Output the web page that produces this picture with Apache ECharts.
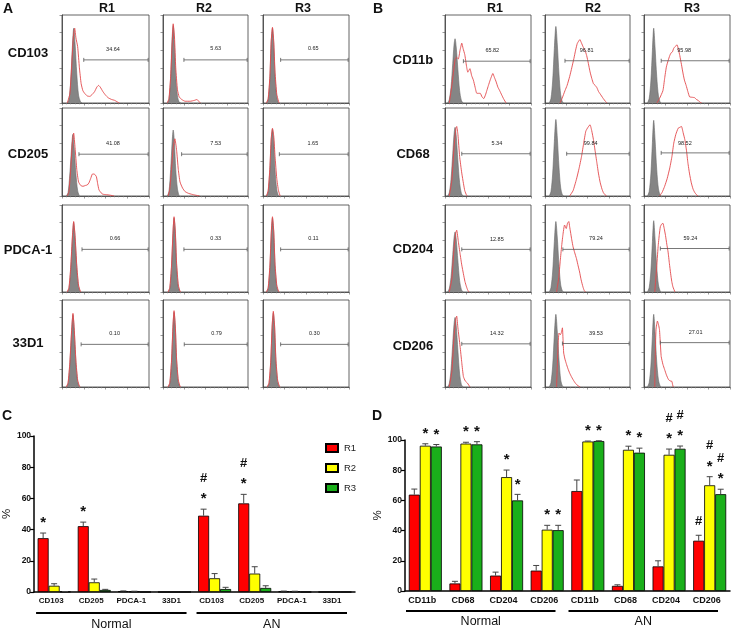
<!DOCTYPE html>
<html><head><meta charset="utf-8">
<script src="https://cdn.jsdelivr.net/npm/echarts@6/dist/echarts.min.js"></script>
<style>html,body{margin:0;padding:0;background:#fff}#c{width:733px;height:632px}</style>
</head><body><div id="c"></div>
<script>
const FF = '"Liberation Sans", Arial, Helvetica, sans-serif';

// ---------- Panels A & B: flow cytometry histograms ----------
const colLabels = ['R1', 'R2', 'R3'];
const rowLabelsA = ['CD103', 'CD205', 'PDCA-1', '33D1'];
const rowLabelsB = ['CD11b', 'CD68', 'CD204', 'CD206'];

// red (stained) histograms, panel A, row-major (x % of box, y % of box)
const redA = [
 [[6,0],[9,10],[11,40],[13,75],[14.6,85],[16,74],[18,64],[20,40],[22,22],[24,14],[26,11],[29,8],[32,7.5],[35,10],[37.5,13],[40,18],[42,20],[44,18],[47,13],[50,9],[53,6],[57,4],[60.5,3],[64,1],[66,0]],
 [[5,0],[7,5],[9,30],[11,72],[12,90],[13.5,75],[15,40],[17,15],[19,7],[22,4],[26,2],[32,2],[37,3],[40,4],[42,2],[44,0]],
 [[4,0],[6,5],[8,30],[9.5,70],[11,86],[12.5,70],[14,35],[16,10],[18,2],[19,0]],
 [[6,0],[8,5],[10,30],[12,62],[13.4,71.5],[15,55],[17,30],[19,16],[21.5,12],[24,11],[27,12],[29,12.5],[31,15],[33,20],[35,25],[37,25],[39.5,22],[41,14],[42.5,7],[45,3.5],[47,2],[51,1.5],[55,1],[60,0]],
 [[6,0],[8,8],[10,30],[12,55],[14,65],[16,52],[18,30],[20,16],[23,9],[26,5],[30,3],[33.6,2],[38,1],[43,0]],
 [[4,0],[6,6],[8,32],[9.5,65],[11,77],[12.5,68],[14,45],[16,20],[18,6],[20,0]],
 [[6,0],[8,5],[10,28],[12,65],[13.4,81],[15,65],[17,30],[19,8],[21,1],[22,0]],
 [[6,0],[8,5],[10,30],[11.8,70],[13,86.5],[14.5,70],[16,33],[18,8],[20,1],[21,0]],
 [[4,0],[6,5],[8,30],[9.7,70],[11,86.5],[12.5,70],[14,32],[16,8],[18,1],[19,0]],
 [[5,0],[7,5],[9,28],[11.2,68],[12.6,84.6],[14,68],[16,30],[18,8],[20,1],[21,0]],
 [[6,0],[8,5],[10,30],[11.8,72],[13,87.7],[14.5,70],[16,32],[18,8],[20,1],[21,0]],
 [[5,0],[7,5],[9,30],[10.6,70],[12,87],[13.5,70],[15,32],[17,8],[19,1],[20,0]]
];
// grey (control) histograms, panel A
const grayA = [
 [[6,0],[8,4],[10,25],[12,65],[13.5,85],[15,68],[17,33],[19,9],[21,2],[23,0]],
 [[5,0],[7,4],[9,28],[10.5,70],[12,88],[13.5,66],[15,30],[17,8],[19,1],[21,0]],
 [[4,0],[6,4],[8,28],[9.5,68],[11,85],[12.5,66],[14,30],[16,7],[18,0]],
 [[5,0],[7,4],[9,25],[11,55],[12.5,70],[14,55],[16,25],[18,6],[20,0]],
 [[5,0],[7,5],[9,30],[10.8,62],[12,75],[13.5,60],[15,30],[17,8],[19,0]],
 [[4,0],[6,5],[8,30],[9.5,62],[11,76],[12.5,62],[14,30],[16,7],[18,0]],
 [[6,0],[8,4],[10,26],[12,62],[13.4,80],[15,62],[17,28],[19,6],[21,0]],
 [[6,0],[8,4],[10,28],[11.8,68],[13,85],[14.5,68],[16,30],[18,6],[20,0]],
 [[4,0],[6,4],[8,28],[9.7,68],[11,85],[12.5,68],[14,30],[16,6],[18,0]],
 [[5,0],[7,4],[9,26],[11.2,66],[12.6,83],[14,66],[16,28],[18,6],[20,0]],
 [[6,0],[8,4],[10,28],[11.8,70],[13,86],[14.5,68],[16,30],[18,6],[20,0]],
 [[5,0],[7,4],[9,28],[10.6,68],[12,85],[13.5,68],[15,30],[17,6],[19,0]]
];
// gates: [start, end, level, labelX, labelY, percent]
const gatesA = [
 [25,99,49,58.6,61,'34.64'], [24.6,99,49,62,62,'5.63'], [20.5,99,49,58.5,62,'0.65'],
 [19.5,99,47.5,58.6,60,'41.08'], [21.9,99,47.5,62,60,'7.53'], [19,99,47.5,58,60,'1.65'],
 [23,99,49,61,61.5,'0.66'], [24.6,99,49,62,61.5,'0.33'], [20.5,99,49,58.5,61.5,'0.11'],
 [22,99,49,60.5,61.5,'0.10'], [25,99,49,63,61.5,'0.79'], [20.5,99,49,59.7,61.5,'0.30']
];

const redB = [
 [[5,0],[8,20],[11.7,49],[13.5,52],[15.5,50],[17.5,60],[19.5,68],[21,62],[23,55],[25,42],[26.5,35],[29,39],[31,31],[33,26],[35,18],[37,11],[41,11],[43,7],[45,5],[47,9],[48.6,14],[50.5,20],[52.5,26],[54,30],[55.6,33.5],[57.5,29],[59.5,24],[61.5,18],[63.4,14.4],[66,9],[68,5],[71,0]],
 [[17.6,0],[20,5],[23.5,14],[26,20],[29,30],[31.5,40],[34,50.6],[36,60],[38,67.7],[41,72],[43,68],[45,63.5],[47,60],[49,54],[51,45],[53,35.4],[55,28],[57,22],[59,20],[61,17.5],[63,13],[64.7,10.6],[66.5,8],[68.6,5],[71,2],[73,0]],
 [[15,0],[18,5],[22,14],[24,28],[26,41],[28,48],[30,54],[31.5,57],[33,58],[34.5,62],[36,64],[38.5,66],[40,61],[41.6,54],[43.5,44],[45.5,33],[47,26],[49,20],[51,13],[53,7],[56,6.5],[59,6],[61,4],[63,3],[65,1],[67,0]],
 [[5,0],[8,18],[10.5,55],[12.5,76],[13.6,79],[15,70],[17,45],[19.5,26],[21.5,14],[23,6],[25,1],[26,0]],
 [[29,0],[33,6],[37,19],[40,31],[43,45],[45.5,60],[48,73.6],[50.5,78],[53,81],[55,74],[57,64],[59,51],[61,38],[63,25],[65,15],[67,8],[68.6,4],[70.5,1.5],[72.5,0]],
 [[18,0],[21,4],[24,11],[27,20],[30,32],[32.5,45],[34.6,60],[37,70],[39.7,77],[41.5,78],[43.6,79],[45.5,72],[47.5,64],[49.5,51],[51,38],[53,25],[55,15],[57,8],[59,4],[61,1.5],[63,0]],
 [[5,0],[8,15],[10.5,50],[12.5,68],[13.6,71],[15.5,58],[17.5,44],[19.5,31],[21.4,21],[23.2,12],[25,6],[26.5,2],[28,0]],
 [[13.6,0],[16,15],[18,36.5],[19.5,52],[21,65],[23,77],[25,73],[26.5,79],[28,81],[29,75],[30,69],[31.5,60],[33,52],[35,45],[37,38.5],[39,30],[40.7,23],[42.5,14],[44.6,6],[46,2],[47.7,0]],
 [[12.5,0],[14.5,25],[16.4,52],[17.8,66],[19,75],[20.5,78],[22,79],[23.5,73],[25,65],[26.5,55],[28,46],[29.5,33],[31,21],[32.3,12],[33.6,6],[36,0]],
 [[5,0],[8,18],[10.5,58],[12.5,78],[13.6,81.5],[15,68],[17.5,47],[19.5,28],[21.4,12],[23.5,7],[26,4.6],[29,0]],
 [[13.6,0],[15.5,51],[16.5,62],[18,60],[19.4,63],[20.5,68],[21.2,55],[22,39],[23.5,32],[25,27],[27,21],[29,16],[31,12],[33,8.5],[36,4],[38.8,1.5],[41.5,0]],
 [[12.5,0],[13.2,40],[14,66],[15.6,75.8],[16.8,72],[18,66],[19,50],[20,35],[22,26],[24,20],[26,14],[28.5,8.5],[30.5,7],[32.4,6.5],[33.2,3],[34,0]]
];
const grayB = [
 [[3,0],[5,4],[7,18],[9,45],[10.5,66],[11.7,73],[13,64],[15,38],[17,14],[19,3],[21,0]],
 [[5,0],[7,5],[9,25],[11,62],[12.8,87],[14.5,66],[16.5,32],[18.5,9],[20.5,1],[22,0]],
 [[4,0],[6,5],[8,25],[9.8,60],[11.3,85],[12.8,64],[14.8,30],[16.8,8],[18.8,1],[20,0]],
 [[3,0],[5,4],[7,19],[9,48],[10.5,70],[11.7,78],[13,69],[15,40],[17,15],[19,3],[21,0]],
 [[5,0],[7,5],[9,25],[11,62],[12.8,87],[14.5,66],[16.5,32],[18.5,9],[20.5,1],[22,0]],
 [[4,0],[6,5],[8,25],[9.8,61],[11.3,86],[12.8,65],[14.8,30],[16.8,8],[18.8,1],[20,0]],
 [[3,0],[5,4],[7,17],[9,43],[10.5,62],[11.7,69],[13,61],[15,36],[17,13],[19,3],[21,0]],
 [[5,0],[7,5],[9,23],[11,58],[12.8,81],[14.5,62],[16.5,30],[18.5,8],[20.5,1],[22,0]],
 [[4,0],[6,5],[8,24],[9.8,58],[11.3,82],[12.8,62],[14.8,29],[16.8,8],[18.8,1],[20,0]],
 [[3,0],[5,4],[7,20],[9,50],[10.5,72],[11.7,80],[13,71],[15,42],[17,15],[19,3],[21,0]],
 [[5,0],[7,5],[9,24],[11,60],[12.8,83.5],[14.5,63],[16.5,31],[18.5,8],[20.5,1],[22,0]],
 [[4,0],[6,5],[8,24],[9.8,59],[11.3,83.5],[12.8,63],[14.8,29],[16.8,8],[18.8,1],[20,0]]
];
const gatesB = [
 [21.4,99,47.5,55,60,'65.82'], [23.5,99,48,49,60,'96.81'], [20,99,48,46.7,60,'95.98'],
 [19.5,99,48,60.3,59.6,'5.34'], [25.5,99,48,53.7,59.6,'99.84'], [20,99,49,47.5,60,'98.52'],
 [19.5,99,49,60.3,60,'12.85'], [21,99,49,60,61.5,'79.24'], [19,99,50,54,62,'59.24'],
 [19.5,99,49.6,60.3,61.5,'14.32'], [20.5,99,50,60,62,'39.53'], [19,99,51,60,63,'27.01']
];

// ---------- Panel C ----------
const catsC = ['CD103','CD205','PDCA-1','33D1','CD103','CD205','PDCA-1','33D1'];
const groupsC = ['Normal','AN'];
const r1C = [34.5, 42.2, 0.5, 0, 48.9, 56.8, 0.4, 0];
const r1CErr = [3.3, 2.6, 0.2, 0, 4.2, 5.8, 0.2, 0];
const r2C = [4.0, 6.2, 0.3, 0, 8.8, 11.8, 0.3, 0];
const r2CErr = [1.3, 2.1, 0.2, 0, 3.0, 4.4, 0.2, 0];
const r3C = [0.2, 1.3, 0, 0, 1.9, 2.6, 0, 0];
const r3CErr = [0.1, 0.4, 0, 0, 1.1, 1.4, 0, 0];
const sigC1 = ['*','*','','','#*','#*','',''];
const sigC2 = ['','','','','','','',''];
const sigC3 = ['','','','','','','',''];

// ---------- Panel D ----------
const catsD = ['CD11b','CD68','CD204','CD206','CD11b','CD68','CD204','CD206'];
const groupsD = ['Normal','AN'];
const r1D = [63.8, 5.0, 10.2, 13.5, 66.2, 3.4, 16.3, 33.3];
const r1DErr = [3.7, 1.4, 2.3, 3.4, 7.3, 0.7, 3.7, 3.6];
const r2D = [96.2, 97.6, 75.4, 40.6, 99.0, 93.5, 90.2, 70.0];
const r2DErr = [1.3, 0.9, 4.7, 2.9, 0.3, 2.4, 3.8, 5.7];
const r3D = [95.7, 97.1, 60.0, 40.3, 99.3, 91.6, 94.2, 64.1];
const r3DErr = [1.3, 1.8, 4.0, 3.2, 0.2, 3.0, 1.8, 3.3];
const sigD1 = ['','','','','','','','#'];
const sigD2 = ['*','*','*','*','*','*','#*','#*'];
const sigD3 = ['*','*','*','*','*','*','#*','#*'];

const seriesNames = ['R1','R2','R3'];
const barColors = ['#ff0000', '#ffff00', '#1aaf1a'];

// ================= build option =================
const grids = [], xAxes = [], yAxes = [], series = [], graphics = [];
const boxColor = '#3c3c3c';

function gateRenderer(txt) {
  return function (params, api) {
    const p1 = api.coord([api.value(0), api.value(2)]);
    const p2 = api.coord([api.value(1), api.value(2)]);
    const pl = api.coord([api.value(3), api.value(4)]);
    const ls = { stroke: '#555', lineWidth: 0.8 };
    return { type: 'group', children: [
      { type: 'line', shape: { x1: p1[0], y1: p1[1], x2: p2[0], y2: p2[1] }, style: ls },
      { type: 'line', shape: { x1: p1[0], y1: p1[1] - 2, x2: p1[0], y2: p1[1] + 2 }, style: ls },
      { type: 'line', shape: { x1: p2[0], y1: p2[1] - 2, x2: p2[0], y2: p2[1] + 2 }, style: ls },
      { type: 'text', x: pl[0], y: pl[1], style: { text: txt, fill: '#222', font: '5.5px ' + FF, align: 'center', verticalAlign: 'middle' } }
    ]};
  };
}

function addHist(left, top, w, h, gray, red, gate) {
  const gi = grids.length;
  grids.push({ left, top, width: w, height: h, show: true, borderColor: boxColor, borderWidth: 0.8, backgroundColor: '#fff' });
  const axLine = { show: true, lineStyle: { color: boxColor, width: 0.8 } };
  xAxes.push({ gridIndex: gi, type: 'value', min: 0, max: 100, interval: 25,
    axisLine: axLine, axisTick: { show: true, length: 2.5, lineStyle: { color: '#555', width: 0.6 } },
    minorTick: { show: true, splitNumber: 5, length: 1.5, lineStyle: { color: '#888', width: 0.5 } },
    axisLabel: { show: false }, splitLine: { show: false } });
  yAxes.push({ gridIndex: gi, type: 'value', min: 0, max: 100, interval: 20,
    axisLine: axLine, axisTick: { show: true, length: 2.5, lineStyle: { color: '#555', width: 0.6 } },
    axisLabel: { show: false }, splitLine: { show: false } });
  series.push({ type: 'line', xAxisIndex: gi, yAxisIndex: gi, data: gray, showSymbol: false, smooth: 0.3,
    lineStyle: { color: '#6a6a6a', width: 0.6 }, areaStyle: { color: '#858585', opacity: 1 }, silent: true, z: 2 });
  series.push({ type: 'line', xAxisIndex: gi, yAxisIndex: gi, data: red, showSymbol: false, smooth: 0.15,
    lineStyle: { color: '#e3474b', width: 0.9 }, silent: true, z: 3 });
  series.push({ type: 'custom', xAxisIndex: gi, yAxisIndex: gi, data: [gate.slice(0, 5)],
    renderItem: gateRenderer(gate[5]), silent: true, z: 4 });
}

const tops = [15, 108, 205, 300], heights = [88, 88, 87, 87];
const leftsA = [62, 163, 263], widthsA = [87, 85, 86];
const leftsB = [445, 545, 644], widthsB = [86, 85, 86];
for (let r = 0; r < 4; r++) for (let c = 0; c < 3; c++) {
  const i = r * 3 + c;
  addHist(leftsA[c], tops[r], widthsA[c], heights[r], grayA[i], redA[i], gatesA[i]);
}
for (let r = 0; r < 4; r++) for (let c = 0; c < 3; c++) {
  const i = r * 3 + c;
  addHist(leftsB[c], tops[r], widthsB[c], heights[r], grayB[i], redB[i], gatesB[i]);
}

function txt(x, y, s, font, align) {
  graphics.push({ type: 'text', x, y, style: { text: s, font, fill: '#111', align: align || 'center', verticalAlign: 'middle' } });
}
const letterFont = 'bold 14px ' + FF, headFont = 'bold 12.5px ' + FF, rowFont = 'bold 13px ' + FF;
txt(8, 9, 'A', letterFont); txt(378, 9, 'B', letterFont);
txt(7, 416, 'C', letterFont); txt(377, 416, 'D', letterFont);
const headXA = [107, 204, 303], headXB = [495, 593, 692];
colLabels.forEach((s, c) => { txt(headXA[c], 9, s, headFont); txt(headXB[c], 9, s, headFont); });
const rowY = [53, 154, 250, 343], rowYB = [60, 154, 249, 346];
rowLabelsA.forEach((s, r) => txt(28, rowY[r], s, rowFont));
rowLabelsB.forEach((s, r) => txt(413, rowYB[r], s, rowFont));

// ---------- bar charts ----------
function addBars(cfg) {
  const gi = grids.length;
  grids.push({ left: cfg.left, top: cfg.top, width: cfg.width, height: cfg.height });
  xAxes.push({ gridIndex: gi, type: 'category', data: cfg.cats,
    axisLine: { show: true, lineStyle: { color: '#000', width: 1.5 } }, axisTick: { show: false },
    axisLabel: { interval: 0, fontSize: cfg.catFont, fontWeight: 'bold', color: '#111', fontFamily: FF, margin: 5, padding: [0, 6, 0, 0] },
    splitLine: { show: false } });
  yAxes.push({ gridIndex: gi, type: 'value', min: 0, max: 100, interval: 20,
    name: '%', nameLocation: 'middle', nameGap: cfg.nameGap, nameTextStyle: { fontSize: 11.5, color: '#111', fontFamily: FF },
    axisLine: { show: true, lineStyle: { color: '#000', width: 1.5 } },
    axisTick: { show: true, length: 4, lineStyle: { color: '#000', width: 1.2 } },
    axisLabel: { fontSize: 8.5, fontWeight: 'bold', color: '#111', fontFamily: FF, margin: 3 },
    splitLine: { show: false } });
  const bw = cfg.barWidth;
  cfg.vals.forEach((v, k) => {
    series.push({ type: 'bar', name: seriesNames[k], xAxisIndex: gi, yAxisIndex: gi, data: v,
      barWidth: bw, barGap: '0%', itemStyle: { color: barColors[k], borderColor: '#000', borderWidth: 0.8 }, z: 2, silent: true });
  });
  const errData = [], sigList = [];
  cfg.vals.forEach((v, k) => v.forEach((val, i) => {
    errData.push([i, val, val + cfg.errs[k][i], k]);
    sigList.push(cfg.sigs[k][i]);
  }));
  series.push({ type: 'custom', xAxisIndex: gi, yAxisIndex: gi, data: errData, encode: { x: 0, y: [1, 2] }, z: 5, silent: true,
    renderItem: function (params, api) {
      const i = api.value(0), v = api.value(1), e = api.value(2), k = api.value(3);
      const base = api.coord([i, v]);
      const x = base[0] + (k - 1) * bw;
      const yTop = api.coord([i, e])[1];
      const ch = [];
      if (e - v > 0.05) {
        const st = { stroke: '#444', lineWidth: 1 };
        ch.push({ type: 'line', shape: { x1: x, y1: base[1], x2: x, y2: yTop }, style: st });
        ch.push({ type: 'line', shape: { x1: x - 3, y1: yTop, x2: x + 3, y2: yTop }, style: st });
      }
      const marks = sigList[params.dataIndex] || '';
      let cy = yTop - 14;
      for (let j = marks.length - 1; j >= 0; j--) {
        const m = marks[j];
        if (m === '*') {
          ch.push({ type: 'text', x: x, y: cy + 4, style: { text: '*', font: 'bold 15px ' + FF, fill: '#111', align: 'center', verticalAlign: 'middle' } });
        } else {
          ch.push({ type: 'text', x: x, y: cy, style: { text: m, font: 'bold 13px ' + FF, fill: '#111', align: 'center', verticalAlign: 'middle' } });
        }
        cy -= 17;
      }
      return { type: 'group', children: ch };
    } });
  // group brackets (Normal / AN)
  series.push({ type: 'custom', xAxisIndex: gi, yAxisIndex: gi, data: [[0, 3], [4, 7]], z: 5, silent: true,
    renderItem: function (params, api) {
      const a = api.coord([api.value(0), 0]), b = api.coord([api.value(1), 0]);
      const band = api.size([1, 0])[0];
      const x1 = a[0] - band / 2 + cfg.inset[0], x2 = b[0] + band / 2 - cfg.inset[1];
      const y = a[1] + cfg.brY;
      return { type: 'group', children: [
        { type: 'line', shape: { x1, y1: y, x2, y2: y }, style: { stroke: '#000', lineWidth: 2 } },
        { type: 'text', x: (x1 + x2) / 2, y: y + cfg.lblY, style: { text: cfg.groups[params.dataIndex], font: '12.5px ' + FF, fill: '#111', align: 'center', verticalAlign: 'middle' } }
      ]};
    } });
}

addBars({ left: 31, top: 436, width: 324, height: 156, cats: catsC, groups: groupsC, catFont: 8,
  vals: [r1C, r2C, r3C], errs: [r1CErr, r2CErr, r3CErr], sigs: [sigC1, sigC2, sigC3],
  barWidth: 11, nameGap: 19, inset: [2, 8], brY: 21, lblY: 12 });
addBars({ left: 405, top: 440, width: 325, height: 151, cats: catsD, groups: groupsD, catFont: 9,
  vals: [r1D, r2D, r3D], errs: [r1DErr, r2DErr, r3DErr], sigs: [sigD1, sigD2, sigD3],
  barWidth: 11, nameGap: 19, inset: [1, 12], brY: 20, lblY: 11 });

const option = {
  animation: false,
  backgroundColor: '#fff',
  textStyle: { fontFamily: FF },
  grid: grids, xAxis: xAxes, yAxis: yAxes, series,
  legend: { data: seriesNames, orient: 'vertical', left: 320, top: 438, itemWidth: 12, itemHeight: 8, itemGap: 10,
    icon: 'rect', selectedMode: false, textStyle: { fontSize: 9.5, color: '#222', fontFamily: FF, padding: [0, 0, 0, 1] } },
  graphic: graphics
};
const chart = echarts.init(document.getElementById('c'), null, { renderer: 'canvas' });
chart.setOption(option);
</script></body></html>
